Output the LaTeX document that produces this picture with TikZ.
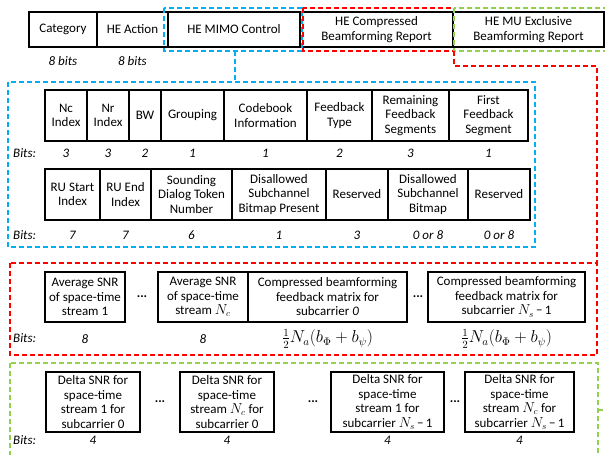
\documentclass[tikz,border=0pt]{standalone}
\usepackage{fontspec}
\setmainfont{Carlito}
\definecolor{cblue}{HTML}{00B0F0}
\definecolor{cred}{HTML}{FF0000}
\definecolor{cgreen}{HTML}{92D050}
\tikzset{
  fbox/.style={draw=black, line width=1.3pt, align=center, inner sep=0pt,
    font=\fontsize{13}{14.5}\selectfont},
  bits/.style={font=\fontsize{13}{14}\selectfont\itshape, inner sep=0pt},
  dots/.style={font=\fontsize{13}{13}\selectfont\bfseries, inner sep=0pt},
  formula/.style={font=\fontsize{16}{16}\selectfont, inner sep=0pt},
  dframe/.style={line width=1.5pt, dash pattern=on 5pt off 3pt},
}
\newcommand\fbx[6]{\node[fbox,minimum width={(#4-#2)*1pt},minimum height={(#5-#3)*1pt}] (#1) at ({(#2+#4)/2},{(#3+#5)/2}) {#6};}
\newcommand\blbl[4]{\node[bits] (#1) at (#2 |- #3) {#4};}
\newcommand\mth[1]{{\fontsize{13.5}{14}\selectfont$#1$}}
\newcommand\nsm{\mth{N_s}\,−\,1}
\begin{document}
\begin{tikzpicture}[x=1pt,y=-1pt]
\useasboundingbox (0,0) rectangle (605,455);
\clip (0,0) rectangle (605,455);
% top row
\fbx{cat}{29}{12}{97}{47}{Category}
\fbx{act}{97}{12}{168}{47}{HE Action}
\fbx{mimo}{168}{12}{300}{47}{HE MIMO Control}
\fbx{cbr}{300}{12}{453}{47}{HE Compressed\\Beamforming Report}
\fbx{mu}{453}{12}{604}{47}{HE MU Exclusive\\Beamforming Report}
\coordinate (r0) at (0,61);
\blbl{lcat}{cat}{r0}{8 bits}
\blbl{lact}{act}{r0}{8 bits}
% frames top
\draw[cblue,dframe] (164,8) rectangle (302,51);
\draw[cred,dframe] (303,8) rectangle (454,51);
\draw[cgreen,dframe] (454,8) rectangle (620,51);
% blue big
\draw[cblue,dframe] (8,82) rectangle (535,247);
\coordinate (bt) at (235,51);
\coordinate (bb) at (235,82);
\draw[cblue,dframe] (bt) -- (bb);
% row 1
\fbx{nc}{45}{90}{87}{141}{Nc\\Index}
\fbx{nr}{87}{90}{129}{141}{Nr\\Index}
\fbx{bw}{129}{90}{161}{141}{BW}
\fbx{grp}{161}{90}{224}{141}{Grouping}
\fbx{cbi}{224}{90}{307}{141}{Codebook\\Information}
\fbx{fbt}{307}{90}{372}{141}{Feedback\\Type}
\fbx{rfs}{372}{90}{449}{141}{Remaining\\Feedback\\Segments}
\fbx{ffs}{449}{90}{528}{141}{First\\Feedback\\Segment}
\coordinate (r1) at (0,153);
\node[bits,anchor=west] (bits1) at (13,153) {Bits:};
\blbl{l1}{nc}{r1}{3}
\blbl{l2}{nr}{r1}{3}
\blbl{l3}{bw}{r1}{2}
\blbl{l4}{grp}{r1}{1}
\blbl{l5}{cbi}{r1}{1}
\blbl{l6}{fbt}{r1}{2}
\blbl{l7}{rfs}{r1}{3}
\blbl{l8}{ffs}{r1}{1}
% row 2
\fbx{rus}{45}{169}{100}{220}{RU Start\\Index}
\fbx{rue}{100}{169}{151}{220}{RU End\\Index}
\fbx{sdt}{151}{169}{232}{220}{Sounding\\Dialog Token\\Number}
\fbx{dsp}{232}{169}{326}{220}{Disallowed\\Subchannel\\Bitmap Present}
\fbx{res1}{326}{169}{388}{220}{Reserved}
\fbx{dsb}{388}{169}{468}{220}{Disallowed\\Subchannel\\Bitmap}
\fbx{res2}{468}{169}{530}{220}{Reserved}
\coordinate (r2) at (0,235);
\node[bits,anchor=west] (bits2) at (13,235) {Bits:};
\blbl{m1}{rus}{r2}{7}
\blbl{m2}{rue}{r2}{7}
\blbl{m3}{sdt}{r2}{6}
\blbl{m4}{dsp}{r2}{1}
\blbl{m5}{res1}{r2}{3}
\blbl{m6}{dsb}{r2}{0 or 8}
\blbl{m7}{res2}{r2}{0 or 8}
% red big
\draw[cred,dframe] (10,263) rectangle (597,355);
\coordinate (ra) at (454,51);
\coordinate (rb) at (454,66);
\coordinate (rc) at (597,66);
\coordinate (rd) at (597,263);
\draw[cred,dframe] (ra) -- (rb) -- (rc) -- (rd);
\fbx{a1}{45}{272}{125}{322}{Average SNR\\of space-time\\stream 1}
\fbx{a2}{158}{272}{248}{322}{Average SNR\\of space-time\\stream \mth{N_c}}
\fbx{a3}{248}{272}{407}{322}{Compressed beamforming\\feedback matrix for\\subcarrier \textit{0}}
\fbx{a4}{428}{272}{585}{322}{Compressed beamforming\\feedback matrix for\\subcarrier \nsm}
\node[dots] (d1) at (142,297) {...};
\node[dots] (d2) at (418,297) {...};
\coordinate (r3) at (0,339);
\node[bits,anchor=west] (bits3) at (13,338) {Bits:};
\blbl{n1}{a1}{r3}{8}
\blbl{n2}{a2}{r3}{8}
\node[formula] (n3) at (a3 |- r3) {$\frac{1}{2}N_a(b_\Phi+b_\psi)$};
\node[formula] (n4) at (a4 |- r3) {$\frac{1}{2}N_a(b_\Phi+b_\psi)$};
% green big
\draw[cgreen,dframe] (10,363) rectangle (598,470);
\coordinate (ga) at (620,51);
\coordinate (gb) at (620,410);
\coordinate (gc) at (598,410);
\draw[cgreen,dframe] (ga) -- (gb) -- (gc);
\fbx{g1}{46}{372}{140}{432}{Delta SNR for\\space-time\\stream 1 for\\subcarrier 0}
\fbx{g2}{180}{372}{274}{432}{Delta SNR for\\space-time\\stream \mth{N_c} for\\subcarrier 0}
\fbx{g3}{331}{372}{444}{432}{Delta SNR for\\space-time\\stream 1 for\\subcarrier \nsm}
\fbx{g4}{465}{372}{574}{432}{Delta SNR for\\space-time\\stream \mth{N_c} for\\subcarrier \nsm}
\node[dots] (e1) at (160,402) {...};
\node[dots] (e2) at (313,402) {...};
\node[dots] (e3) at (455,402) {...};
\coordinate (r4) at (0,440);
\node[bits,anchor=west] (bits4) at (13,440) {Bits:};
\blbl{o1}{g1}{r4}{4}
\blbl{o2}{g2}{r4}{4}
\blbl{o3}{g3}{r4}{4}
\blbl{o4}{g4}{r4}{4}
\end{tikzpicture}
\end{document}
